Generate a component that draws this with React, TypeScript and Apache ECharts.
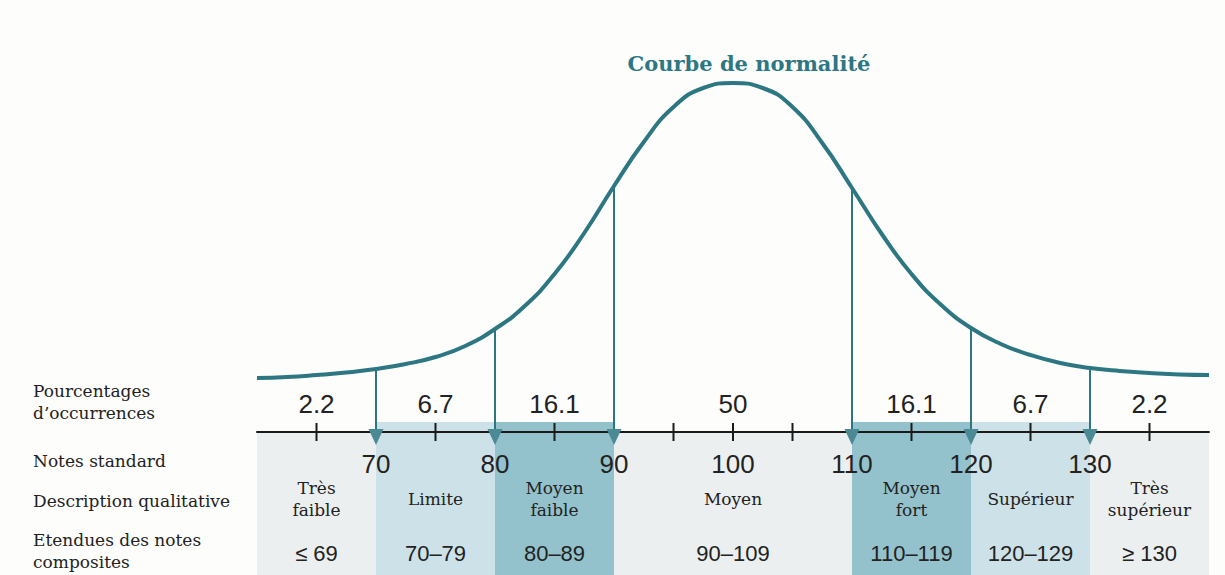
import React, { useEffect, useRef } from 'react';
import * as echarts from 'echarts';

// ---- data ----
const curveX = [60, 62.5, 65, 67.5, 70, 72.5, 75, 77.5, 80, 82.5, 85, 87.5, 90, 92.5, 95, 97.5, 100, 102.5, 105, 107.5, 110, 112.5, 115, 117.5, 120, 122.5, 125, 127.5, 130, 132.5, 135, 137.5, 140];
const curveY = [54, 55, 57, 59.5, 63, 68, 75, 86, 103, 126, 158, 199, 246, 290, 325, 344, 349, 344, 325, 289, 244, 198, 158, 127, 104, 88, 77, 69, 64, 61, 59, 57.5, 57];
const cutScores = [70, 80, 90, 110, 120, 130];
const cutHeights = [63, 103, 246, 244, 104, 64];
const axisLabelValues = [70, 80, 90, 100, 110, 120, 130];
const minorTicks = [65, 75, 85, 95, 100, 105, 115, 125, 135];
const percentCenters = [65, 75, 85, 100, 115, 125, 135];
const percentValues = ['2.2', '6.7', '16.1', '50', '16.1', '6.7', '2.2'];
const bandFrom = [60, 70, 80, 90, 110, 120, 130];
const bandTo = [70, 80, 90, 110, 120, 130, 140];
const bandCenters = [65, 75, 85, 100, 115, 125, 135];
const descriptions = ['Très\nfaible', 'Limite', 'Moyen\nfaible', 'Moyen', 'Moyen\nfort', 'Supérieur', 'Très\nsupérieur'];
const ranges = ['≤ 69', '70–79', '80–89', '90–109', '110–119', '120–129', '≥ 130'];
const rowLabels = ['Pourcentages\nd’occurrences', 'Notes standard', 'Description qualitative', 'Etendues des notes\ncomposites'];
const titleText = 'Courbe de normalité';

// ---- styles ----
const TEAL = '#2d7783';
const bandShade = [0, 1, 2, 0, 2, 1, 0];
const bandColors = ['#eceff0', '#cde2e8', '#93c2cd'];
const SERIF = "'DejaVu Serif', 'Liberation Serif', serif";
const SANS = "'Liberation Sans', Arial, sans-serif";
const NARROW = "'Liberation Sans Narrow', 'Liberation Sans', sans-serif";

export default function App() {
  const ref = useRef<HTMLDivElement>(null);
  useEffect(() => {
    if (!ref.current) return;
    const chart = echarts.init(ref.current, undefined, { renderer: 'svg' });
    const rowY = [402, 461, 501, 551];
    const option: any = {
      animation: false,
      backgroundColor: '#fdfdfc',
      grid: { left: 257, right: 16, top: 32, bottom: 143 },
      xAxis: {
        type: 'value', min: 60, max: 140, interval: 5, z: 5,
        axisLine: { show: true, lineStyle: { color: '#1a1a1a', width: 2 } },
        axisTick: { show: false },
        splitLine: { show: false },
        axisLabel: {
          showMinLabel: false, showMaxLabel: false, margin: 19,
          fontFamily: SANS, fontSize: 26, color: '#222',
          formatter: (v: number) => (axisLabelValues.indexOf(v) >= 0 ? String(v) : ''),
        },
      },
      yAxis: { type: 'value', min: 0, max: 400, show: false },
      graphic: [
        {
          type: 'text', x: 749, y: 63, z: 10,
          style: { text: titleText, align: 'center', verticalAlign: 'middle', fontFamily: SERIF, fontWeight: 'bold', fontSize: 21, fill: TEAL },
        },
        ...rowLabels.map((t, i) => ({
          type: 'text', x: 33, y: rowY[i], z: 10,
          style: { text: t, align: 'left', verticalAlign: 'middle', fontFamily: SERIF, fontSize: 17, lineHeight: 22, fill: '#222' },
        })),
      ],
      series: [
        {
          type: 'custom', z: 1, silent: true,
          data: bandFrom.map((f, i) => [f, bandTo[i], bandCenters[i]]),
          encode: { x: [0, 1, 2] },
          renderItem: (params: any, api: any) => {
            const i = params.dataIndex;
            const axisY = api.coord([60, 0])[1];
            const x0 = api.coord([api.value(0), 0])[0];
            const x1 = api.coord([api.value(1), 0])[0];
            const xc = api.coord([api.value(2), 0])[0];
            const shade = bandShade[i];
            const top = shade === 0 ? axisY : axisY - 10;
            return {
              type: 'group',
              children: [
                { type: 'rect', shape: { x: x0, y: top, width: x1 - x0, height: 600 - top }, style: { fill: bandColors[shade] } },
                { type: 'text', x: xc, y: axisY + 67, style: { text: descriptions[i], align: 'center', verticalAlign: 'middle', fontFamily: SERIF, fontSize: 17, lineHeight: 22, fill: '#222' } },
                { type: 'text', x: xc, y: axisY + 121, style: { text: ranges[i], align: 'center', verticalAlign: 'middle', fontFamily: NARROW, fontSize: 22, fill: '#222' } },
              ],
            };
          },
        },
        {
          type: 'custom', z: 6, silent: true,
          data: minorTicks.map((v) => [v, 0]),
          renderItem: (params: any, api: any) => {
            const p = api.coord([api.value(0), 0]);
            return { type: 'line', shape: { x1: p[0], y1: p[1] - 9, x2: p[0], y2: p[1] + 9 }, style: { stroke: '#1a1a1a', lineWidth: 2 } };
          },
        },
        {
          type: 'custom', z: 6, silent: true,
          data: percentCenters.map((v) => [v, 28]),
          renderItem: (params: any, api: any) => {
            const p = api.coord([api.value(0), api.value(1)]);
            return { type: 'text', x: p[0], y: p[1], style: { text: percentValues[params.dataIndex], align: 'center', verticalAlign: 'middle', fontFamily: SANS, fontSize: 26, fill: '#222' } };
          },
        },
        {
          type: 'line', z: 4, smooth: true, showSymbol: false, silent: true,
          data: curveX.map((x, i) => [x, curveY[i]]),
          lineStyle: { color: TEAL, width: 4 },
        },
        {
          type: 'custom', z: 7, silent: true,
          data: cutScores.map((x, i) => [x, cutHeights[i]]),
          renderItem: (params: any, api: any) => {
            const top = api.coord([api.value(0), api.value(1)]);
            const base = api.coord([api.value(0), 0]);
            const x = base[0];
            return {
              type: 'group',
              children: [
                { type: 'line', shape: { x1: x, y1: top[1], x2: x, y2: base[1] - 3 }, style: { stroke: TEAL, lineWidth: 2 } },
                { type: 'polygon', shape: { points: [[x - 7.5, base[1] - 3], [x + 7.5, base[1] - 3], [x, base[1] + 13]] }, style: { fill: '#4b8a94' } },
              ],
            };
          },
        },
      ],
    };
    chart.setOption(option);
    return () => chart.dispose();
  }, []);
  return <div ref={ref} style={{ position: 'fixed', left: 0, top: 0, width: 1225, height: 575 }} />;
}
